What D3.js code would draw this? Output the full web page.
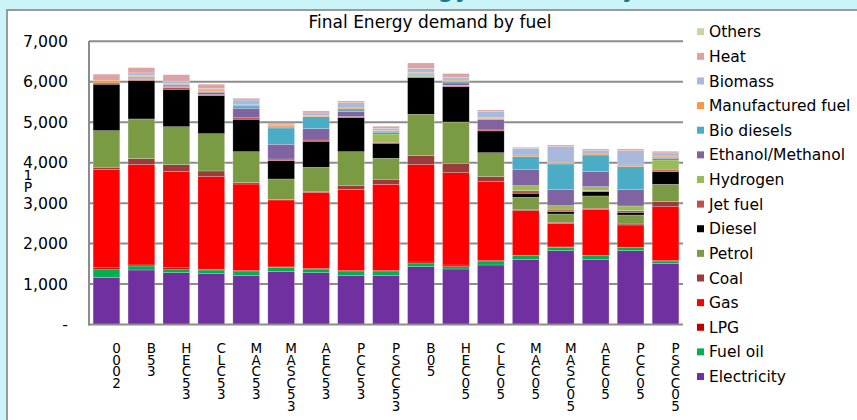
<!DOCTYPE html>
<html><head><meta charset="utf-8">
<script src="https://cdn.jsdelivr.net/npm/d3@7"></script>
<style>
html,body{margin:0;padding:0;background:#cbf4f8;}
svg{display:block;font-family:"DejaVu Sans",Verdana,sans-serif;}
</style></head>
<body><svg id="c" width="857" height="420"></svg>
<script>
const categories = ["0002","B53","HEC53","CLC53","MAC53","MASC53","AEC53","PCC53","PSCC53","B05","HEC05","CLC05","MAC05","MASC05","AEC05","PCC05","PSCC05"];
const seriesNames = ["Electricity","Fuel oil","LPG","Gas","Coal","Petrol","Diesel","Jet fuel","Hydrogen","Ethanol/Methanol","Bio diesels","Manufactured fuel","Biomass","Heat","Others"];
const colors = ["#7030a0","#00b050","#c00000","#ff0000","#9b3b3b","#7a9a44","#000000","#c0504d","#9bbb59","#8064a2","#4bacc6","#f79646","#a8b9dc","#dba4a4","#c4d7a4"];
const electricity = [1167,1347,1281,1256,1216,1306,1281,1216,1216,1429,1372,1471,1602,1825,1602,1825,1503];
const fuelOil     = [205,100,91,91,107,108,91,107,107,74,57,99,99,83,99,74,67];
const lpg         = [42,25,42,20,10,10,15,10,10,42,42,10,10,10,10,10,10];
const gas         = [2423,2480,2373,2287,2140,1654,1881,2009,2133,2406,2282,1950,1102,584,1137,551,1332];
const coal        = [50,148,164,141,33,17,25,99,124,222,222,124,35,25,25,25,124];
const petrol      = [906,981,939,922,766,502,593,831,519,1024,1031,593,297,205,304,222,430];
const diesel      = [1146,948,924,940,801,453,643,841,371,904,873,537,99,57,106,66,312];
const jetFuel     = [32,20,50,33,37,41,31,27,25,29,21,26,64,42,27,41,42];
const hydrogen    = [0,30,10,0,0,0,0,0,205,30,10,0,123,106,97,116,247];
const ethanol     = [0,20,20,50,235,364,281,121,30,15,60,253,406,405,371,412,40];
const bioDiesels  = [0,30,40,25,57,403,297,67,40,25,40,27,312,626,412,559,30];
const manufFuel   = [67,30,30,30,28,49,22,27,20,35,30,25,41,42,25,42,25];
const biomass     = [0,60,50,35,120,28,69,129,50,95,71,146,166,386,91,354,80];
const heat        = [150,130,160,110,42,46,49,41,50,135,92,42,24,41,33,42,40];
const others      = [0,0,0,0,0,0,0,0,0,0,0,0,0,0,0,0,0];
const yTicks = [0,1000,2000,3000,4000,5000,6000,7000];
const chartTitle = "Final Energy demand by fuel";
const headingText = "Final Energy demand by fuel";

const seriesValues = [electricity,fuelOil,lpg,gas,coal,petrol,diesel,jetFuel,hydrogen,ethanol,bioDiesels,manufFuel,biomass,heat,others];
const table = categories.map((c,i)=>{const o={cat:c}; seriesNames.forEach((s,j)=>o[s]=seriesValues[j][i]); return o;});
const stack = d3.stack().keys(seriesNames)(table);

const svg = d3.select("#c");
// heading (clipped at top, only descenders visible)
svg.append("text").attr("x",300).attr("y",-4).attr("font-size",28).attr("fill","#1f7391")
  .text(headingText);
// white panel
svg.append("rect").attr("x",7).attr("y",10).attr("width",900).attr("height",450)
  .attr("fill","#fff").attr("stroke","#9a9a9a").attr("stroke-width",2);

const x = d3.scaleBand().domain(categories).range([89,683]).paddingInner(0.236).paddingOuter(0.118);
const y = d3.scaleLinear().domain([0,7000]).range([324.5,41.3]);

// gridlines
svg.append("g").selectAll("line").data(yTicks.filter(t=>t>0)).join("line")
  .attr("x1",89).attr("x2",683).attr("y1",d=>y(d)).attr("y2",d=>y(d))
  .attr("stroke","#8c8c8c").attr("stroke-width",2);

// bars
svg.append("g").selectAll("g").data(stack).join("g")
  .attr("fill",(d,i)=>colors[i])
  .selectAll("rect").data(d=>d).join("rect")
  .attr("x",d=>x(d.data.cat)).attr("width",x.bandwidth())
  .attr("y",d=>y(d[1])).attr("height",d=>Math.max(0,y(d[0])-y(d[1])))
  .attr("stroke","rgba(255,255,255,0.35)").attr("stroke-width",0.6);

// axes lines
svg.append("line").attr("x1",89).attr("x2",89).attr("y1",41).attr("y2",325.5).attr("stroke","#8c8c8c").attr("stroke-width",2);
svg.append("line").attr("x1",88).attr("x2",683).attr("y1",324.5).attr("y2",324.5).attr("stroke","#8c8c8c").attr("stroke-width",2);

// y axis labels
const yAxis = d3.axisLeft(y).tickValues(yTicks).tickSize(0).tickPadding(21)
  .tickFormat(d=>d===0?"-":d3.format(",")(d));
const ga = svg.append("g").attr("transform","translate(89,0)").call(yAxis);
ga.select(".domain").remove();
ga.selectAll("text").attr("font-size",15.7).attr("fill","#000").attr("font-family","DejaVu Sans, Verdana, sans-serif");

// odd y title fragments
svg.append("text").attr("x",28).attr("y",180).attr("font-size",14).attr("text-anchor","middle").text("1");
svg.append("text").attr("x",28).attr("y",192).attr("font-size",14).attr("text-anchor","middle").text("P");

// chart title
svg.append("text").attr("x",430).attr("y",28).attr("text-anchor","middle").attr("font-size",17).text(chartTitle);

// category labels (stacked characters)
const cl = svg.append("g").selectAll("text").data(categories).join("text")
  .attr("font-size",13.5).attr("text-anchor","middle");
cl.each(function(d){
  const t = d3.select(this); const cx = x(d)+x.bandwidth()/2+10;
  d.split("").forEach((ch,k)=>t.append("tspan").attr("x",cx).attr("y",353+k*11.5).text(ch));
});

// legend (reverse order)
const leg = svg.append("g").selectAll("g").data(seriesNames.slice().reverse()).join("g")
  .attr("transform",(d,i)=>`translate(697,${31.7+i*24.63})`);
leg.append("rect").attr("x",0).attr("y",-3.5).attr("width",7).attr("height",7)
  .attr("fill",d=>colors[seriesNames.indexOf(d)]);
leg.append("text").attr("x",12).attr("y",0).attr("dy","0.36em").attr("font-size",15.5).text(d=>d);
</script></body></html>
